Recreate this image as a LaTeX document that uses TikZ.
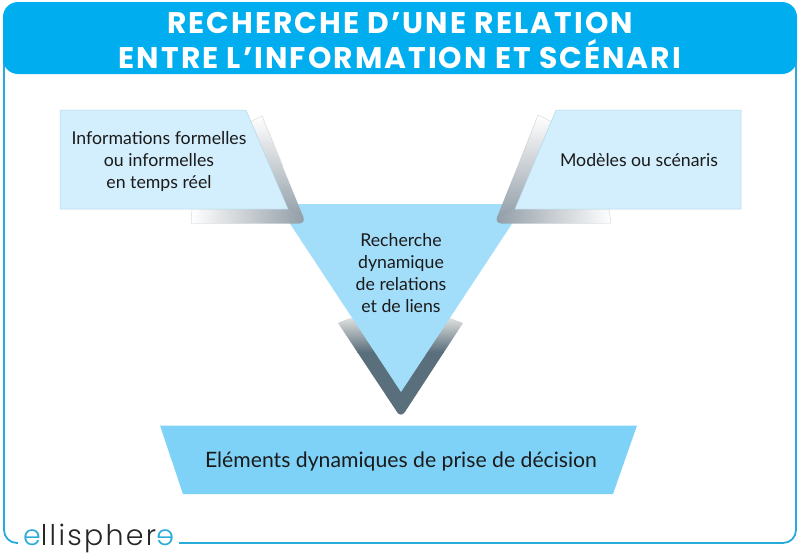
\documentclass[tikz,border=0pt]{standalone}
\usepackage{fontspec}
\setmainfont{Lato}
\newfontfamily\titlefont[LetterSpace=6.8]{Poppins}
\newfontfamily\logofont[LetterSpace=8]{Poppins Light}
\definecolor{headblue}{HTML}{00AEEF}
\definecolor{framblue}{HTML}{29ABD9}
\definecolor{palebox}{HTML}{D3EEFC}
\definecolor{paleline}{HTML}{B5D8E8}
\definecolor{midblue}{HTML}{A2DDF9}
\definecolor{lowblue}{HTML}{7FD2F7}
\definecolor{slate}{HTML}{5A6F7C}
\definecolor{steel}{HTML}{8C98A2}
\definecolor{inktext}{HTML}{1A1A1A}
\begin{document}
\begin{tikzpicture}[x=1pt,y=-1pt,
  frameline/.style={draw=framblue, line width=1.8pt},
  boxtxt/.style={font=\fontsize{17.7}{22}\selectfont, text=inktext, align=center, inner sep=0pt},
  titletxt/.style={font=\titlefont\bfseries\fontsize{29.8}{35}\selectfont, text=white, align=center, inner sep=0pt},
  rim/.style={draw=gray!35, line width=0.4pt},
  paleedge/.style={draw=paleline, line width=0.5pt}
]
\useasboundingbox (0,0) rectangle (800,552);
\fill[white] (0,0) rectangle (800,552);
% Frame
\draw[frameline, rounded corners=13pt] (179,543) -- (796,543) -- (796,40) -- (4,40) -- (4,543) -- (18,543);
\fill[headblue, rounded corners=15pt] (3,2) rectangle (797,74);
\node[titletxt] (title) at (400,40.5) {RECHERCHE D’UNE RELATION\\ENTRE L’INFORMATION ET SCÉNARI};
% Logo
\node[font=\logofont\fontsize{28.5}{28.5}\selectfont, anchor=base west, inner sep=0pt, text=black!85] (logo) at (23,545.5)
  {\textcolor{framblue}{e}llispher\textcolor{framblue}{\reflectbox{e}}};
% V under the triangle
\begin{scope}
  \clip (338,323) -- (350,318) -- (450,318) -- (463,323) [rounded corners=7pt] -- (401,418) [sharp corners] -- cycle;
  \shade[top color=gray!25, bottom color=slate] (330,318) rectangle (470,352);
  \fill[slate] (330,352) rectangle (470,420);
\end{scope}
% Centre triangle
\fill[midblue] (277,204) -- (525,204) -- (401,392) -- cycle;
% Left bracket
\begin{scope}
  \clip (250,122) -- (262,116) [rounded corners=7pt] -- (306,223.5) [sharp corners] -- (191,223.5) -- (191,205) -- (240,205) -- cycle;
  \shade[top color=white, bottom color=steel] (240,116) -- (310,116) -- (310,224) -- (288,209) -- cycle;
  \shade[left color=white, right color=steel] (191,205) -- (288,209) -- (310,224) -- (191,224) -- cycle;
\end{scope}
\draw[rim] (250,122) -- (262,116) -- (283,166);
\draw[rim] (192,209) -- (191,223.5) -- (250,223.5);
% Left box
\path[fill=palebox, paleedge] (60,110) -- (246,110) -- (288,209) -- (60,209) -- cycle;
\node[boxtxt] (infos) at (159,161) {Informations formelles\\ou informelles\\en temps réel};
% Right bracket
\begin{scope}
  \clip (552,122) -- (538,115) [rounded corners=7pt] -- (494.5,223.5) [sharp corners] -- (611,223.5) -- (609,205) -- (560,205) -- cycle;
  \shade[top color=white, bottom color=steel] (560,115) -- (490,115) -- (490,224) -- (515,209) -- cycle;
  \shade[left color=steel, right color=white] (515,209) -- (612,205) -- (612,224) -- (490,224) -- cycle;
\end{scope}
\draw[rim] (552,122) -- (538,115) -- (518,166);
\draw[rim] (609,209) -- (611,223.5) -- (550,223.5);
% Right box
\path[fill=palebox, paleedge] (556,110) -- (741,110) -- (741,209) -- (515,209) -- cycle;
\node[boxtxt] (models) at (639,160) {Modèles ou scénaris};
\node[boxtxt] (search) at (401,273) {Recherche\\dynamique\\de relations\\et de liens};
% Bottom band
\fill[lowblue] (160,425.5) -- (637,425.5) -- (613,494) -- (183,494) -- cycle;
\node[boxtxt, font=\fontsize{21.2}{24}\selectfont, anchor=base] (items) at (401,467) {Eléments dynamiques de prise de décision};
\end{tikzpicture}
\end{document}
